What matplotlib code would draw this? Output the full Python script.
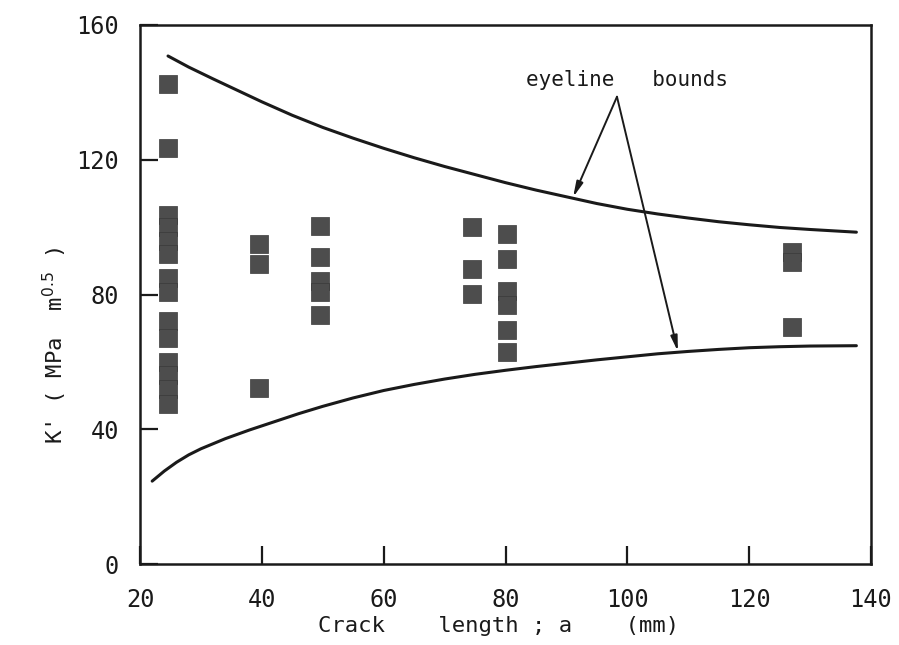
"""Crack length vs K' scatter with eyeline bounds."""
import matplotlib; matplotlib.use("Agg"); import matplotlib.pyplot as plt

# measured points: (crack length a [mm], K' [MPa m^0.5])
a_pts = ([24.6] * 14 + [39.5] * 3 + [49.6] * 5 + [74.5] * 3 + [80.3] * 6 + [127.0] * 3)
k_pts = ([142.4, 123.4, 103.5, 100, 96, 92, 85, 80.8, 72, 67, 60, 56, 52, 47.5]
         + [95, 89, 52.3]
         + [100.3, 91, 84, 80.7, 73.8]
         + [100, 87.5, 80.1]
         + [97.9, 90.5, 81, 77, 69.4, 62.9]
         + [92.6, 89.7, 70.3])

# eyeline bounds
up_a = [24.6, 28, 32, 36, 40, 45, 50, 55, 60, 65, 70, 75, 80, 85, 90, 95, 100, 105, 110, 115, 120, 125, 130, 137.6]
up_k = [150.8, 147.5, 144.0, 140.6, 137.2, 133.2, 129.6, 126.4, 123.4, 120.6, 118.0, 115.6, 113.2, 111.0,
        109.0, 107.0, 105.3, 103.9, 102.7, 101.6, 100.7, 99.9, 99.3, 98.5]
lo_a = [22, 24, 26, 28, 30, 34, 38, 42, 46, 50, 55, 60, 65, 70, 75, 80, 85, 90, 95, 100, 105, 110, 115, 120,
        125, 130, 137.6]
lo_k = [24.6, 27.6, 30.2, 32.4, 34.2, 37.2, 39.8, 42.2, 44.6, 46.8, 49.3, 51.5, 53.3, 54.9, 56.3, 57.5, 58.6,
        59.6, 60.6, 61.5, 62.4, 63.1, 63.7, 64.2, 64.5, 64.7, 64.8]

fnt = "DejaVu Sans Mono"
ink = "#1a1a1a"
fig = plt.figure(figsize=(8.99, 6.45), dpi=100)
ax = fig.add_axes([140 / 899, 1 - 564 / 645, 731 / 899, 539 / 645])

ax.plot(up_a, up_k, color=ink, lw=2.2, solid_capstyle="round")
ax.plot(lo_a, lo_k, color=ink, lw=2.2, solid_capstyle="round")
ax.scatter(a_pts, k_pts, marker="s", s=175, color="#4d4d4d", edgecolors="#3a3a3a", linewidths=0.5, zorder=3)

# annotation with two arrows
apex = (98.3, 138.7)
ax.text(83.4, 143.6, "eyeline   bounds", fontsize=15, family=fnt, va="center", ha="left", color=ink)
for tip in [(91.1, 108.9), (108.3, 63.1)]:
    ax.annotate("", xy=tip, xytext=apex,
                arrowprops=dict(arrowstyle="-|>,head_length=0.9,head_width=0.2", color=ink, lw=1.4,
                                shrinkA=0, shrinkB=0))

ax.set_xlim(20, 140); ax.set_ylim(0, 160)
ax.set_xticks([20, 40, 60, 80, 100, 120, 140]); ax.set_yticks([0, 40, 80, 120, 160])
ax.tick_params(direction="in", length=13, width=1.6, labelsize=17, colors=ink)
ax.tick_params(axis="x", pad=17); ax.tick_params(axis="y", pad=15)
for lab in ax.get_xticklabels() + ax.get_yticklabels():
    lab.set_family(fnt)
for s in ax.spines.values():
    s.set_linewidth(1.8); s.set_color(ink)

fig.text(499 / 899, 1 - 626 / 645, "Crack    length ; a    (mm)", fontsize=16, family=fnt, ha="center",
         va="center", color=ink)
fig.text(55 / 899, 1 - 345 / 645, "K' ( MPa  m$^{0.5}$ )", fontsize=16, family=fnt, ha="center", va="center",
         rotation=90, color=ink)

fig.savefig("out.png", dpi=100)
